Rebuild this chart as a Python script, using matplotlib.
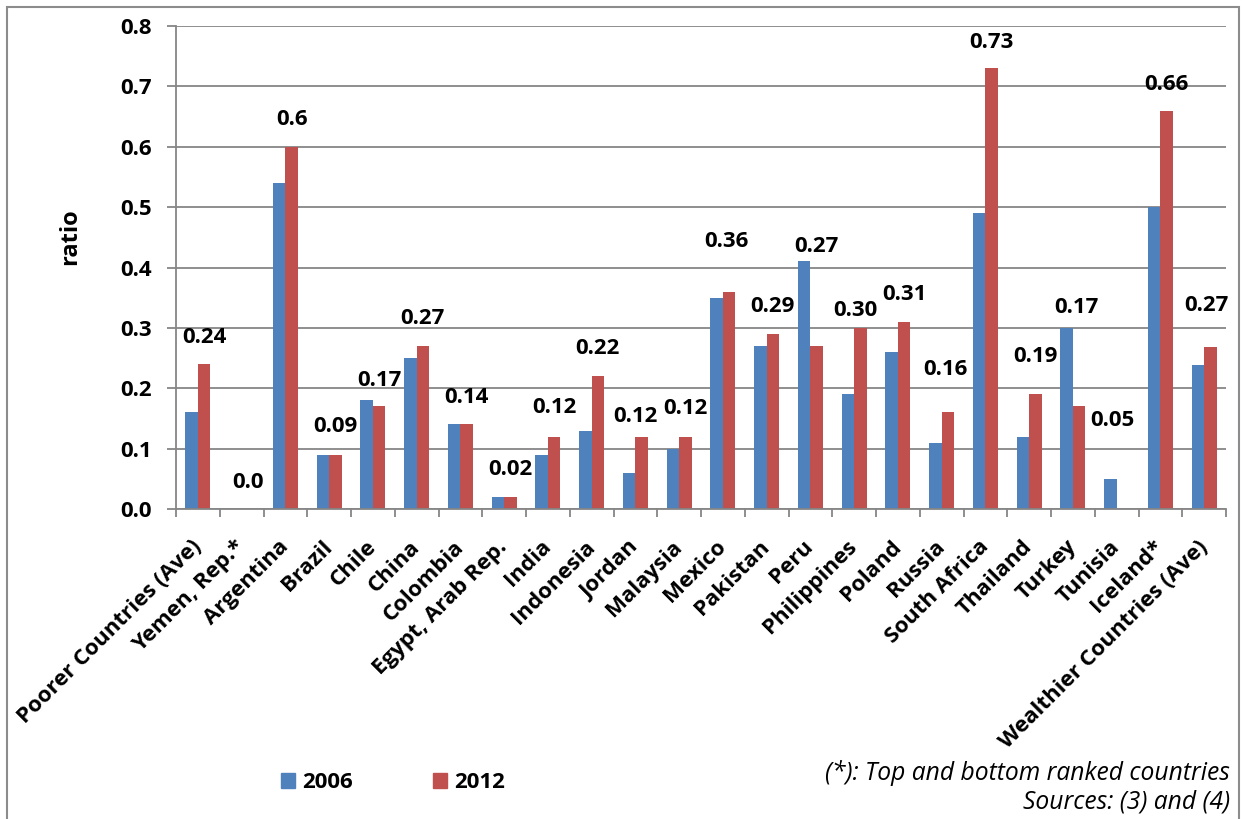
import matplotlib
matplotlib.use("Agg")
import matplotlib.pyplot as plt
import numpy as np
from matplotlib.patches import Rectangle

plt.rcParams['font.family'] = ['Open Sans', 'DejaVu Sans']

categories = ["Poorer Countries (Ave)", "Yemen, Rep.*", "Argentina", "Brazil", "Chile",
              "China", "Colombia", "Egypt, Arab Rep.", "India", "Indonesia", "Jordan",
              "Malaysia", "Mexico", "Pakistan", "Peru", "Philippines", "Poland", "Russia",
              "South Africa", "Thailand", "Turkey", "Tunisia", "Iceland*",
              "Wealthier Countries (Ave)"]
v2006 = [0.16, 0.0, 0.54, 0.09, 0.18, 0.25, 0.14, 0.02, 0.09, 0.13, 0.06, 0.10, 0.35,
         0.27, 0.41, 0.19, 0.26, 0.11, 0.49, 0.12, 0.30, 0.05, 0.50, 0.238]
v2012 = [0.24, 0.0, 0.60, 0.09, 0.17, 0.27, 0.14, 0.02, 0.12, 0.22, 0.12, 0.12, 0.36,
         0.29, 0.27, 0.30, 0.31, 0.16, 0.73, 0.19, 0.17, 0.0, 0.66, 0.268]
label_text = ["0.24", "0.0", "0.6", "0.09", "0.17", "0.27", "0.14", "0.02", "0.12", "0.22",
              "0.12", "0.12", "0.36", "0.29", "0.27", "0.30", "0.31", "0.16", "0.73", "0.19",
              "0.17", "0.05", "0.66", "0.27"]
label_series = ["2012"] * 21 + ["2006"] + ["2012"] * 2
series_names = ["2006", "2012"]

# label placement offsets (pixels) relative to the labelled bar's top centre
label_dx = [0, 0, 0, 0, 0, 0, 0, 0, 0, 0, -6, 0, -3, 0, 0, -5, 0, -2, 0, 0, -3, 2, 0, -4]
label_dy = [27, 27, 27, 28, 26, 27, 27, 27, 29, 28, 20, 28, 50, 27, 99, 17, 27, 43, 26, 38,
            99, 58, 26, 42]

BLUE = "#4F81BD"
RED = "#C0504D"
GRAY = "#868686"
FS = 16

W, H = 1244, 819
fig = plt.figure(figsize=(W / 100, H / 100), dpi=100)
ax = fig.add_axes([176 / W, 1 - 509 / H, (1226 - 176) / W, (509 - 26) / H])

n = len(categories)
x = np.arange(n)
bw = 1 / 1.75 / 2
ax.bar(x - bw / 2, v2006, width=bw, color=BLUE, zorder=3, label=series_names[0])
ax.bar(x + bw / 2, v2012, width=bw, color=RED, zorder=3, label=series_names[1])

ax.set_xlim(-0.5, n - 0.5)
ax.set_ylim(0, 0.8)
ax.set_yticks(np.arange(0, 0.81, 0.1))
ax.set_yticklabels([f"{t:.1f}" for t in np.arange(0, 0.81, 0.1)], fontsize=FS,
                   fontweight="bold")
ax.grid(axis="y", color=GRAY, lw=1.3, zorder=0)
ax.set_axisbelow(True)

for s in ["top", "right"]:
    ax.spines[s].set_visible(False)
for s in ["left", "bottom"]:
    ax.spines[s].set_color(GRAY)
    ax.spines[s].set_linewidth(1.3)
    ax.spines[s].set_zorder(4)

ax.tick_params(axis="y", direction="out", length=6.5, width=1.3, color=GRAY, pad=11)
ax.set_xticks(x)
ax.set_xticklabels(categories, rotation=45, ha="right", va="center",
                   rotation_mode="anchor", fontsize=FS, fontweight="bold")
ax.tick_params(axis="x", which="major", length=0, pad=25)
ax.set_xticks(np.arange(-0.5, n, 1.0), minor=True)
ax.tick_params(axis="x", which="minor", direction="out", length=6, width=1.3, color=GRAY)

for i in range(n):
    if label_series[i] == "2006":
        xc, yv = x[i] - bw / 2, v2006[i]
    else:
        xc, yv = x[i] + bw / 2, v2012[i]
    ax.annotate(label_text[i], (xc, yv), xytext=(label_dx[i], label_dy[i]),
                textcoords="offset pixels", ha="center", va="center",
                fontsize=FS, fontweight="bold", zorder=5)

fig.text(70 / W, 1 - 237 / H, "ratio", rotation=90, ha="center", va="center",
         fontsize=17, fontweight="bold")

handles = [Rectangle((0, 0), 1, 1, color=BLUE), Rectangle((0, 0), 1, 1, color=RED)]
fig.legend(handles, series_names, loc="center", bbox_to_anchor=(393 / W, 1 - 783 / H),
           ncol=2, frameon=False, handlelength=0.64, handleheight=0.64, handletextpad=0.32,
           columnspacing=3.6, prop={"size": FS, "weight": "bold"})

fig.text(1230 / W, 1 - 773 / H, "(*): Top and bottom ranked countries", ha="right",
         va="center", fontsize=17.7, style="italic")
fig.text(1230 / W, 1 - 802 / H, "Sources: (3) and (4)", ha="right", va="center",
         fontsize=17.7, style="italic")

fig.add_artist(Rectangle((7 / W, -0.02), (1239 - 7) / W, (H - 7) / H + 0.02,
                         transform=fig.transFigure, fill=False, edgecolor="#8c8c8c",
                         lw=1.5))

fig.savefig("out.png", dpi=100)
